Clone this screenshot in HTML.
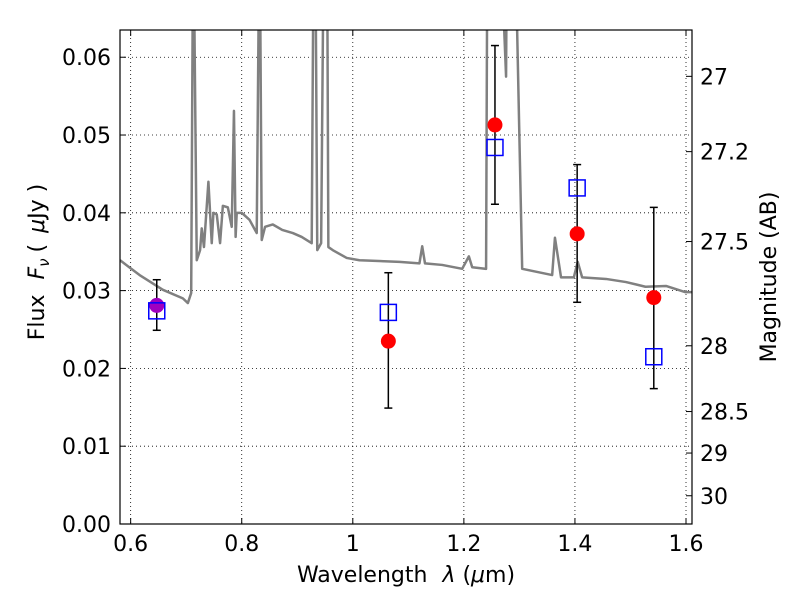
<!DOCTYPE html>
<html><head><meta charset="utf-8"><style>
body{margin:0;background:#fff}
text{font-family:"DejaVu Sans","Liberation Sans",sans-serif;font-size:22px;fill:#000}
</style></head><body>
<svg id="chart" width="800" height="600" xmlns="http://www.w3.org/2000/svg"></svg>
<script>
const fluxTicks=[0,0.01,0.02,0.03,0.04,0.05,0.06];
const fluxTickLabels=["0.00","0.01","0.02","0.03","0.04","0.05","0.06"];
const wlTicks=[0.6,0.8,1.0,1.2,1.4,1.6];
const wlTickLabels=["0.6","0.8","1","1.2","1.4","1.6"];
const magTicks=[27,27.2,27.5,28,28.5,29,30];
const magTickLabels=["27","27.2","27.5","28","28.5","29","30"];
const bandWl=[0.647,1.064,1.256,1.404,1.542];
const obsFlux=[0.0281,0.0235,0.0513,0.0373,0.0291];
const errHigh=[0.0314,0.0323,0.0615,0.0462,0.0407];
const errLow=[0.0249,0.0149,0.0411,0.0285,0.0174];
const modelFlux=[0.0274,0.0272,0.0484,0.0432,0.0215];
const specWl=[0.581,0.616,0.658,0.694,0.703,0.709,0.712,0.714,0.719,0.725,0.728,0.732,0.740,0.746,0.749,0.755,0.761,0.766,0.775,0.782,0.786,0.789,0.791,0.800,0.814,0.827,0.831,0.833,0.836,0.842,0.856,0.873,0.892,0.908,0.926,0.929,0.933,0.936,0.943,0.947,0.954,0.956,0.964,0.989,1.012,1.084,1.120,1.125,1.130,1.161,1.197,1.209,1.215,1.240,1.242,1.269,1.276,1.277,1.294,1.305,1.359,1.364,1.375,1.398,1.405,1.413,1.456,1.492,1.527,1.564,1.599,1.611];
const specFlux=[0.0339,0.0320,0.0301,0.0290,0.0284,0.0297,0.0700,0.0700,0.0339,0.0352,0.0380,0.0356,0.0440,0.0361,0.0400,0.0398,0.0361,0.0409,0.0407,0.0382,0.0531,0.0369,0.0400,0.0400,0.0391,0.0374,0.0700,0.0700,0.0365,0.0382,0.0385,0.0378,0.0374,0.0369,0.0361,0.0700,0.0700,0.0352,0.0361,0.0700,0.0700,0.0356,0.0352,0.0342,0.0339,0.0337,0.0335,0.0357,0.0335,0.0333,0.0328,0.0344,0.0330,0.0328,0.0700,0.0700,0.0575,0.0700,0.0700,0.0328,0.0320,0.0368,0.0317,0.0317,0.0337,0.0317,0.0315,0.0311,0.0305,0.0306,0.0298,0.0298];
const L=120,R=692,T=30,B=524,X0=0.5808,X1=1.6108,Y0=0,Y1=0.0635;
const sx=v=>L+(v-X0)/(X1-X0)*(R-L);
const sy=v=>B-(v-Y0)/(Y1-Y0)*(B-T);
const magY=m=>sy(Math.pow(10,(23.9-m)/2.5));
const svg=document.getElementById('chart');const NS="http://www.w3.org/2000/svg";
function mk(tag,attrs,parent){const e=document.createElementNS(NS,tag);for(const k in attrs)e.setAttribute(k,attrs[k]);(parent||svg).appendChild(e);return e;}
const clip=mk('clipPath',{id:'pc'});mk('rect',{x:L,y:T,width:R-L,height:B-T},clip);
wlTicks.forEach((v,i)=>{const x=sx(v);
const g=mk('line',{x1:x,x2:x,y1:T,y2:B,stroke:'#000','stroke-dasharray':'1,3','stroke-width':0.8});

mk('line',{x1:x,x2:x,y1:B,y2:B-6,stroke:'#000'});mk('line',{x1:x,x2:x,y1:T,y2:T+6,stroke:'#000'});
const t=mk('text',{x:x,y:B+27,'text-anchor':'middle'});t.textContent=wlTickLabels[i];
});
fluxTicks.forEach((v,i)=>{const y=sy(v);
const g=mk('line',{x1:L,x2:R,y1:y,y2:y,stroke:'#000','stroke-dasharray':'1,3','stroke-width':0.8});

mk('line',{x1:L,x2:L+6,y1:y,y2:y,stroke:'#000'});
const t=mk('text',{x:L-9,y:y+8,'text-anchor':'end'});t.textContent=fluxTickLabels[i];
});
magTicks.forEach((m,i)=>{const y=magY(m);
mk('line',{x1:R,x2:R-6,y1:y,y2:y,stroke:'#000'});
const t=mk('text',{x:R+8,y:y+8});t.textContent=magTickLabels[i];
});
const sp=mk('polyline',{points:specWl.map((w,i)=>sx(w)+','+sy(specFlux[i])).join(' '),fill:'none',stroke:'#808080','stroke-width':2.5,'stroke-linejoin':'round','clip-path':'url(#pc)'});

bandWl.forEach((w,i)=>{const x=sx(w);
const e=mk('g',{stroke:'#000','stroke-width':1.5});

mk('line',{x1:x,x2:x,y1:sy(errLow[i]),y2:sy(errHigh[i])},e);
mk('line',{x1:x-4,x2:x+4,y1:sy(errLow[i]),y2:sy(errLow[i])},e);
mk('line',{x1:x-4,x2:x+4,y1:sy(errHigh[i]),y2:sy(errHigh[i])},e);
const c=mk('circle',{cx:x,cy:sy(obsFlux[i]),r:7.5,fill:i===0?'#a000c0':'#ff0000',stroke:'none'});

const s=mk('rect',{x:x-8,y:sy(modelFlux[i])-8,width:16,height:16,fill:'none',stroke:'#0000ff','stroke-width':1.5});
});
const fr=mk('rect',{x:L,y:T,width:R-L,height:B-T,fill:'none',stroke:'#000','stroke-width':1.2});

const xt=mk('text',{x:406,y:582,'text-anchor':'middle'});xt.innerHTML='Wavelength  <tspan font-style="italic" dx="8">λ</tspan> (<tspan font-style="italic">μ</tspan>m)';

const yt=mk('text',{x:0,y:0,transform:'translate(44,262) rotate(-90)','text-anchor':'middle'});yt.innerHTML='Flux  <tspan font-style="italic" dx="8">F</tspan><tspan font-style="italic" font-size="15" dy="5">ν</tspan><tspan dy="-5" dx="6">( </tspan><tspan font-style="italic" dx="4">μ</tspan>Jy )';

const rt=mk('text',{x:0,y:0,transform:'translate(776,277) rotate(-90)','text-anchor':'middle'});rt.textContent='Magnitude (AB)';

</script>
</body></html>
